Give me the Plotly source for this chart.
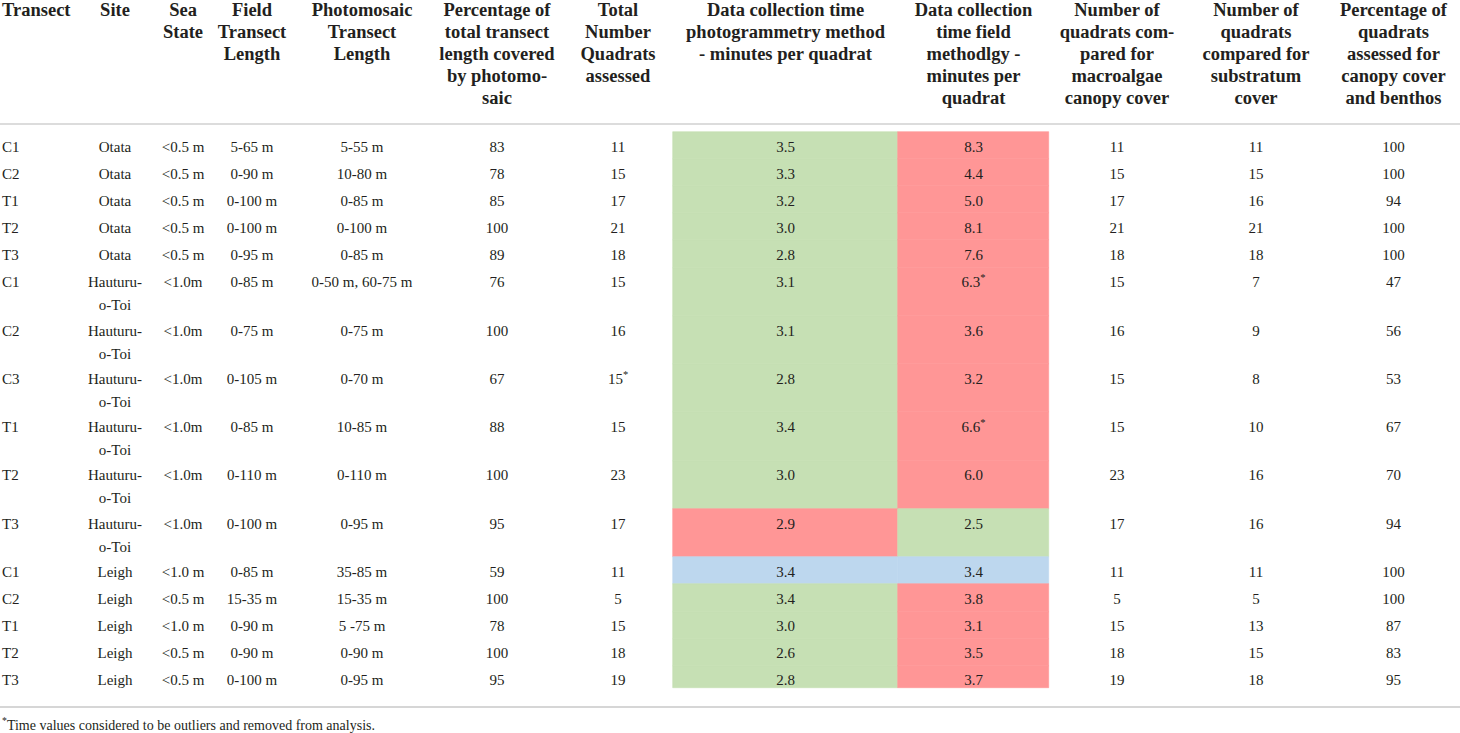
import numpy as np
import plotly.graph_objects as go

# column headers (<br> = line break as printed)
headers = [
    "Transect", "Site", "Sea<br>State", "Field<br>Transect<br>Length",
    "Photomosaic<br>Transect<br>Length",
    "Percentage of<br>total transect<br>length covered<br>by photomo-<br>saic",
    "Total<br>Number<br>Quadrats<br>assessed",
    "Data collection time<br>photogrammetry method<br>- minutes per quadrat",
    "Data collection<br>time field<br>methodlgy -<br>minutes per<br>quadrat",
    "Number of<br>quadrats com-<br>pared for<br>macroalgae<br>canopy cover",
    "Number of<br>quadrats<br>compared for<br>substratum<br>cover",
    "Percentage of<br>quadrats<br>assessed for<br>canopy cover<br>and benthos",
]

transect = ["C1", "C2", "T1", "T2", "T3", "C1", "C2", "C3", "T1", "T2", "T3",
            "C1", "C2", "T1", "T2", "T3"]
site = ["Otata"] * 5 + ["Hauturu-<br>o-Toi"] * 6 + ["Leigh"] * 5
sea_state = ["<0.5 m"] * 5 + ["<1.0m"] * 6 + ["<1.0 m", "<0.5 m", "<1.0 m", "<0.5 m", "<0.5 m"]
field_length = ["5-65 m", "0-90 m", "0-100 m", "0-100 m", "0-95 m", "0-85 m", "0-75 m",
                "0-105 m", "0-85 m", "0-110 m", "0-100 m", "0-85 m", "15-35 m", "0-90 m",
                "0-90 m", "0-100 m"]
photo_length = ["5-55 m", "10-80 m", "0-85 m", "0-100 m", "0-85 m", "0-50 m, 60-75 m",
                "0-75 m", "0-70 m", "10-85 m", "0-110 m", "0-95 m", "35-85 m", "15-35 m",
                "5 -75 m", "0-90 m", "0-95 m"]
pct_covered = [83, 78, 85, 100, 89, 76, 100, 67, 88, 100, 95, 59, 100, 78, 100, 95]
total_quadrats = [11, 15, 17, 21, 18, 15, 16, 15, 15, 23, 17, 11, 5, 15, 18, 19]
total_flag = [7]  # rows marked with *
photo_time = [3.5, 3.3, 3.2, 3.0, 2.8, 3.1, 3.1, 2.8, 3.4, 3.0, 2.9, 3.4, 3.4, 3.0, 2.6, 2.8]
field_time = [8.3, 4.4, 5.0, 8.1, 7.6, 6.3, 3.6, 3.2, 6.6, 6.0, 2.5, 3.4, 3.8, 3.1, 3.5, 3.7]
field_flag = [5, 8]  # outliers
n_canopy = [11, 15, 17, 21, 18, 15, 16, 15, 15, 23, 17, 11, 5, 15, 18, 19]
n_substratum = [11, 15, 16, 21, 18, 7, 9, 8, 10, 16, 16, 11, 5, 13, 15, 18]
pct_assessed = [100, 100, 94, 100, 100, 47, 56, 53, 67, 70, 94, 100, 100, 87, 83, 95]

footnote = "<sup>*</sup>Time values considered to be outliers and removed from analysis."

# layout (pixels)
W, H = 1460, 733
col_w = [75, 80, 56, 82, 138, 132, 110, 225, 151, 136, 142, 133]
head_y0, head_dy = 11, 22.2
rule_y, body_top, body_bottom = 124, 132, 688
row_h1, row_extra = 27.1, 21.2
line_off, line_dy = 16, 23
foot_rule, foot_y = 707, 724

GREEN, RED, BLUE = "#c6e0b4", "#ff9696", "#bdd7ee"
serif = "Liberation Serif"
ink = "#231f20"


def star(vals, flags, fmt="{}"):
    return [fmt.format(v) + ("<sup>*</sup>" if i in flags else "") for i, v in enumerate(vals)]


columns = [
    transect, site, sea_state, field_length, photo_length,
    [str(v) for v in pct_covered],
    star(total_quadrats, total_flag),
    ["{:.1f}".format(v) for v in photo_time],
    star(field_time, field_flag, "{:.1f}"),
    [str(v) for v in n_canopy],
    [str(v) for v in n_substratum],
    [str(v) for v in pct_assessed],
]

edges = np.concatenate([[0], np.cumsum(col_w)])
centers = (edges[:-1] + edges[1:]) / 2
text_x = [edges[0] + 2] + list(centers[1:])
text_pos = ["middle right"] + ["middle center"] * (len(col_w) - 1)

n = len(transect)
n_lines = [max(len(col[i].split("<br>")) for col in columns) for i in range(n)]
row_h = [row_h1 + row_extra * (k - 1) for k in n_lines]
row_top = body_top + np.concatenate([[0], np.cumsum(row_h)[:-1]])

# cell colours: the faster method green, the slower red, ties blue
photo_fill, field_fill = [], []
for p, f in zip(photo_time, field_time):
    if p < f:
        photo_fill.append(GREEN); field_fill.append(RED)
    elif p > f:
        photo_fill.append(RED); field_fill.append(GREEN)
    else:
        photo_fill.append(BLUE); field_fill.append(BLUE)

fig = go.Figure()

bx, bw, bb, bh, bc = [], [], [], [], []
for c, fill in ((7, photo_fill), (8, field_fill)):
    for i in range(n):
        bottom = min(row_top[i] + row_h[i], body_bottom)
        bx.append(centers[c]); bw.append(col_w[c])
        bb.append(row_top[i]); bh.append(bottom - row_top[i]); bc.append(fill[i])
fig.add_trace(go.Bar(x=bx, y=bh, base=bb, width=bw,
                     marker=dict(color=bc, line=dict(color=bc, width=0.6)),
                     hoverinfo="skip"))

# header text
hx, hy, ht, hp = [], [], [], []
for j, h in enumerate(headers):
    for k, line in enumerate(h.split("<br>")):
        hx.append(text_x[j]); hy.append(head_y0 + head_dy * k)
        ht.append("<b>" + line.replace("<", "&lt;") + "</b>"); hp.append(text_pos[j])
fig.add_trace(go.Scatter(x=hx, y=hy, text=ht, mode="text", textposition=hp,
                         textfont=dict(family=serif, size=18.5, color=ink),
                         hoverinfo="skip"))

# body text
cx, cy, ct, cp = [], [], [], []
for j, col in enumerate(columns):
    for i, val in enumerate(col):
        for k, line in enumerate(val.split("<br>")):
            cx.append(text_x[j]); cy.append(row_top[i] + line_off + line_dy * k)
            ct.append(line if "<sup>" in line else line.replace("<", "&lt;"))
            cp.append(text_pos[j])
fig.add_trace(go.Scatter(x=cx, y=cy, text=ct, mode="text", textposition=cp,
                         textfont=dict(family=serif, size=15, color=ink),
                         hoverinfo="skip"))

fig.update_layout(
    width=W, height=H,
    margin=dict(l=0, r=0, t=0, b=0),
    paper_bgcolor="white", plot_bgcolor="white",
    showlegend=False, barmode="overlay", bargap=0,
    xaxis=dict(range=[0, W], visible=False, fixedrange=True),
    yaxis=dict(range=[H, 0], visible=False, fixedrange=True),
    shapes=[
        dict(type="line", x0=0, x1=W, y0=rule_y, y1=rule_y,
             line=dict(color="#dcdcdc", width=2)),
        dict(type="line", x0=0, x1=W, y0=foot_rule, y1=foot_rule,
             line=dict(color="#c8c8c8", width=1.5)),
    ],
    annotations=[
        dict(text=footnote, x=0, y=foot_y, xanchor="left", yanchor="middle",
             showarrow=False, font=dict(family=serif, size=14, color=ink))
    ],
)

fig.write_html("out.html", config=dict(displayModeBar=False),
               post_script="document.body.style.margin = '0';")
